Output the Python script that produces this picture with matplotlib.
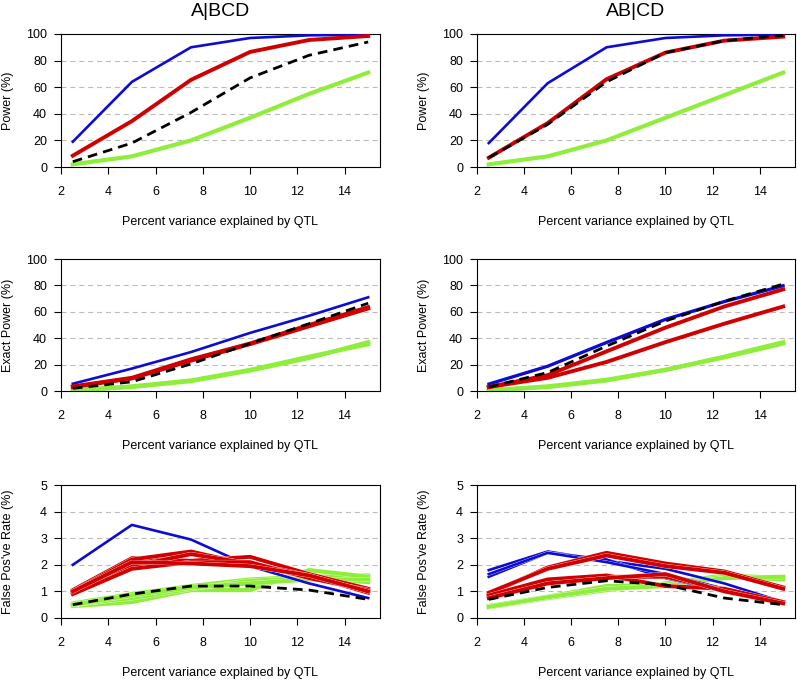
import matplotlib
matplotlib.use("Agg")
import matplotlib.pyplot as plt
import matplotlib.patheffects as pe

plt.rcParams['font.family'] = ['Liberation Sans', 'DejaVu Sans']

# x values: percent variance explained by QTL
pct_var = [2.5, 5, 7.5, 10, 12.5, 15]

col_titles = ["A|BCD", "AB|CD"]
row_ylabels = ["Power (%)", "Exact Power (%)", "False Pos've Rate (%)"]
row_ylims = [100, 100, 5]
row_yticks = [[0, 20, 40, 60, 80, 100], [0, 20, 40, 60, 80, 100], [0, 1, 2, 3, 4, 5]]
row_grid = [[20, 40, 60, 80], [20, 40, 60, 80], [1, 2, 3, 4]]

# ---- A|BCD, power
pow_a_green = [[2, 8, 20, 37, 55, 71]]
pow_a_blue = [[19, 64, 90, 97, 99, 99.5]]
pow_a_red = [[8.5, 34.5, 65.5, 86.5, 95.5, 98.5]]
pow_a_black = [4, 18, 41, 67, 84, 94]

# ---- AB|CD, power
pow_b_green = [[2, 8, 20, 37, 54, 71]]
pow_b_blue = [[18, 63, 90, 97, 99, 99.5]]
pow_b_red = [[7, 33, 66, 86, 95, 98]]
pow_b_black = [7, 32, 64, 86, 95, 99]

# ---- A|BCD, exact power
exact_a_green = [[0.5, 3.5, 8, 16, 26, 35.5], [0.5, 3, 7.5, 15.5, 25, 37]]
exact_a_blue = [[5.5, 17, 29.5, 44, 57, 71]]
exact_a_red = [[3.5, 10, 24, 36, 50, 63.5], [3, 9.5, 23, 35.5, 49, 62.5]]
exact_a_black = [2, 7, 20.5, 36, 51, 66.5]

# ---- AB|CD, exact power
exact_b_green = [[0.5, 3, 8, 16, 26, 37], [0.5, 3.5, 8.5, 16, 25.5, 36]]
exact_b_blue = [[5.5, 19, 37, 54.5, 68, 80], [5, 18.5, 36.5, 54, 67.5, 79.5]]
exact_b_red = [[3, 12, 30, 48, 64, 77], [3, 10, 22, 37, 51, 64]]
exact_b_black = [3, 14, 34, 53, 68, 81]

# ---- A|BCD, false positive rate
fpr_a_green = [[0.55, 0.9, 1.2, 1.45, 1.55, 1.6], [0.45, 0.6, 1.05, 1.05, 1.8, 1.55],
               [0.5, 0.75, 1.1, 1.4, 1.5, 1.35], [0.5, 0.85, 1.15, 1.3, 1.45, 1.45]]
fpr_a_blue = [[2.0, 3.5, 2.95, 1.95, 1.3, 0.75]]
fpr_a_red = [[1.05, 2.25, 2.15, 2.3, 1.65, 1.1], [1.0, 2.2, 2.5, 2.0, 1.55, 1.0],
             [0.95, 1.95, 2.4, 2.05, 1.6, 0.95], [0.9, 1.85, 2.1, 2.1, 1.5, 1.05],
             [1.0, 2.1, 2.05, 1.95, 1.6, 1.0]]
fpr_a_black = [0.5, 0.9, 1.2, 1.2, 1.05, 0.7]

# ---- AB|CD, false positive rate
fpr_b_green = [[0.4, 0.75, 1.05, 1.3, 1.6, 1.5], [0.45, 0.8, 1.2, 1.25, 1.55, 1.45],
               [0.42, 0.78, 1.1, 1.2, 1.5, 1.55]]
fpr_b_blue = [[1.8, 2.5, 2.15, 1.85, 1.3, 0.6], [1.55, 2.45, 2.2, 1.5, 1.0, 0.55],
              [1.65, 2.45, 2.1, 1.65, 1.1, 0.6]]
fpr_b_red = [[0.9, 1.9, 2.45, 2.05, 1.75, 1.15], [0.95, 1.85, 2.35, 1.95, 1.7, 1.1],
             [0.8, 1.4, 1.55, 1.55, 1.05, 0.6], [0.85, 1.45, 1.6, 1.2, 1.1, 0.6],
             [0.75, 1.3, 1.5, 1.65, 1.0, 0.55]]
fpr_b_black = [0.7, 1.15, 1.4, 1.25, 0.75, 0.5]

panels = [
    [(pow_a_green, pow_a_blue, pow_a_red, pow_a_black), (pow_b_green, pow_b_blue, pow_b_red, pow_b_black)],
    [(exact_a_green, exact_a_blue, exact_a_red, exact_a_black), (exact_b_green, exact_b_blue, exact_b_red, exact_b_black)],
    [(fpr_a_green, fpr_a_blue, fpr_a_red, fpr_a_black), (fpr_b_green, fpr_b_blue, fpr_b_red, fpr_b_black)],
]

GREEN = "#8fee3c"
BLUE = "#0c0cd2"
RED = "#d00000"

W, H = 797, 682
fig = plt.figure(figsize=(W / 100, H / 100), dpi=100)

col_x = [(61, 380), (477, 795)]
row_y = [(34, 167), (259, 391), (485, 618)]


def edge(lw, on):
    # thin white rim between stacked lines (only visible where lines pile up)
    if not on:
        return []
    return [pe.Stroke(linewidth=lw + 0.35, foreground="white"), pe.Normal()]


for r in range(3):
    for c in range(2):
        x0, x1 = col_x[c]
        y0, y1 = row_y[r]
        ax = fig.add_axes([x0 / W, 1 - y1 / H, (x1 - x0) / W, (y1 - y0) / H])
        greens, blues, reds, black = panels[r][c]
        rim = r == 2

        for g in row_grid[r]:
            ax.axhline(g, color="#bbbbbb", lw=0.8, dashes=(4.5, 3.5), zorder=0)

        for ys in greens:
            ax.plot(pct_var, ys, color=GREEN, lw=3.0, solid_joinstyle="round",
                    path_effects=edge(3.0, rim), zorder=2)
        for ys in blues:
            ax.plot(pct_var, ys, color=BLUE, lw=1.9, solid_joinstyle="round",
                    path_effects=edge(1.9, rim), zorder=3)
        for ys in reds:
            ax.plot(pct_var, ys, color=RED, lw=2.8, solid_joinstyle="round",
                    path_effects=edge(2.8, rim), zorder=4)
        ax.plot(pct_var, black, color="black", lw=2.0, dashes=(3.5, 2.2), zorder=5)

        ax.set_xlim(2, 15.5)
        ax.set_ylim(0, row_ylims[r])
        ax.set_xticks([2, 4, 6, 8, 10, 12, 14])
        ax.set_yticks(row_yticks[r])
        ax.tick_params(direction="out", length=5, width=0.8, labelsize=9, colors="black")
        ax.tick_params(axis="x", pad=9)
        ax.tick_params(axis="y", pad=5)
        for s in ax.spines.values():
            s.set_linewidth(0.8)

        ax.set_ylabel(row_ylabels[r], fontsize=9, va="center")
        ax.yaxis.set_label_coords(-53 / (x1 - x0), 0.5)
        ax.text(0.5, -55 / (y1 - y0), "Percent variance explained by QTL",
                transform=ax.transAxes, ha="center", va="center", fontsize=9)
        if r == 0:
            ax.text(0.5, 1 + 22 / (y1 - y0), col_titles[c], transform=ax.transAxes,
                    ha="center", va="center", fontsize=14)

fig.savefig("out.png", dpi=100)
